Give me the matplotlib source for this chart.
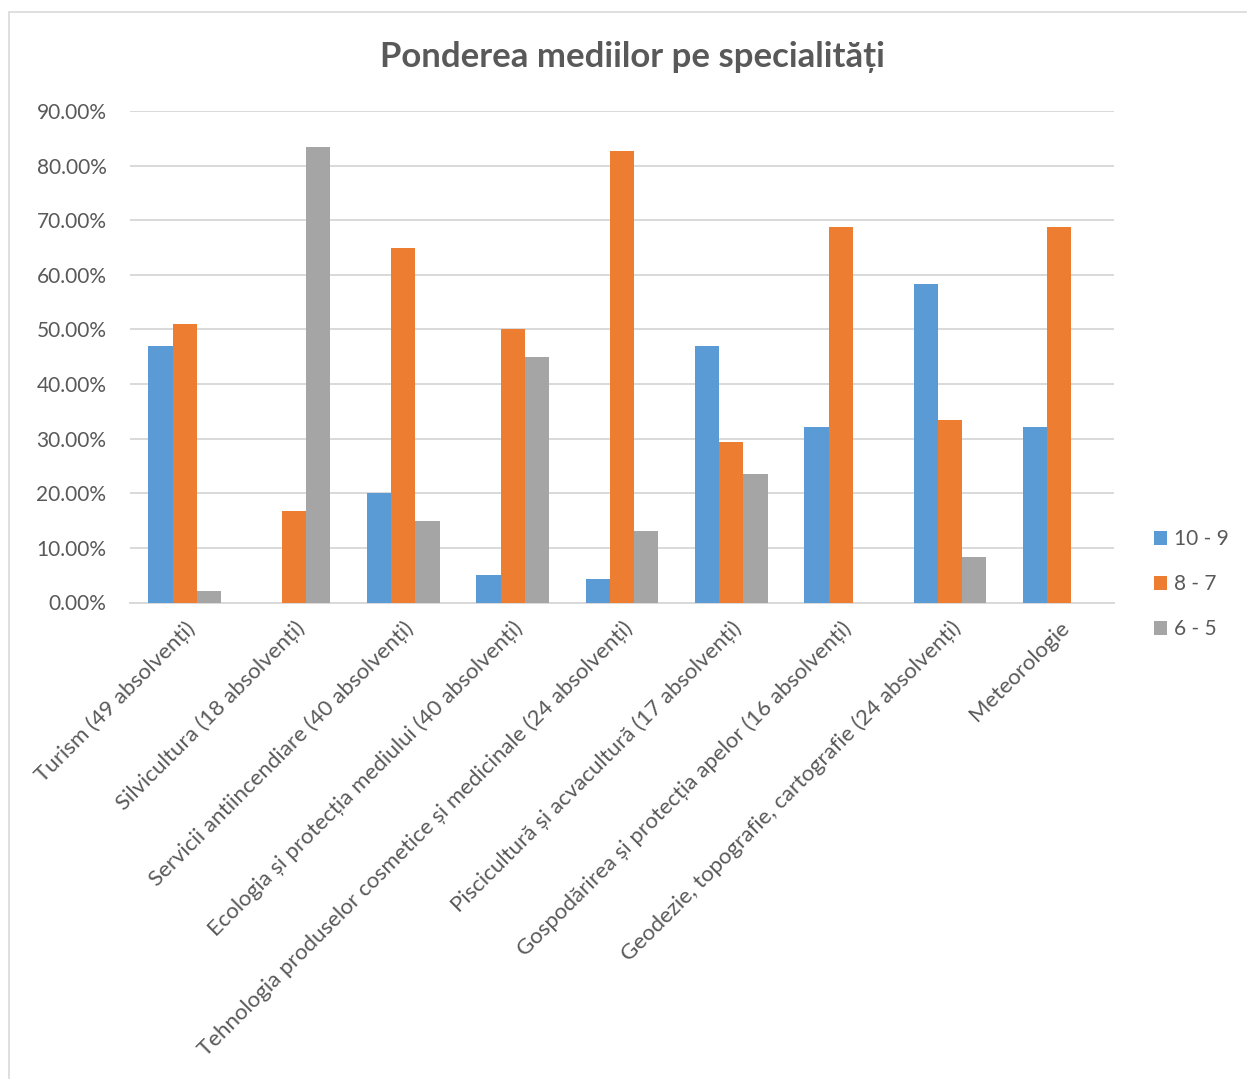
import numpy as np
import matplotlib.pyplot as plt
from matplotlib.patches import Rectangle

# Date (procente)
specialitati = [
    'Turism (49 absolvenți)',
    'Silvicultura (18 absolvenți)',
    'Servicii antiincendiare (40 absolvenți)',
    'Ecologia și protecția mediului (40 absolvenți)',
    'Tehnologia produselor cosmetice și medicinale (24 absolvenți)',
    'Piscicultură și acvacultură (17 absolvenți)',
    'Gospodărirea și protecția apelor (16 absolvenți)',
    'Geodezie, topografie, cartografie (24 absolvenți)',
    'Meteorologie',
]
medii_10_9 = [46.94, 0.0, 20.0, 5.0, 4.35, 47.06, 32.2, 58.33, 32.2]
medii_8_7 = [51.02, 16.67, 65.0, 50.0, 82.61, 29.41, 68.8, 33.33, 68.8]
medii_6_5 = [2.04, 83.33, 15.0, 45.0, 13.04, 23.53, 0.0, 8.33, 0.0]
serii = ['10 - 9', '8 - 7', '6 - 5']
culori = ['#5B9BD5', '#ED7D31', '#A5A5A5']

plt.rcParams['font.family'] = ['Lato', 'DejaVu Sans']
gri_text = '#595959'

W, H = 1247, 1079
fig = plt.figure(figsize=(W / 100, H / 100), dpi=100)
ax = fig.add_axes([130 / W, 1 - 602.5 / H, 984 / W, (602.5 - 111) / H])

x = np.arange(len(specialitati))
w = 0.222
for i, (vals, nume, c) in enumerate(zip([medii_10_9, medii_8_7, medii_6_5], serii, culori)):
    ax.bar(x + (i - 1) * w, vals, w, color=c, label=nume, zorder=3)

ax.set_xlim(-0.5, len(specialitati) - 0.5)
ax.set_ylim(0, 90)
ax.set_yticks(np.arange(0, 91, 10))
ax.set_yticklabels([f'{v:.2f}%' for v in np.arange(0, 91, 10)])
ax.grid(axis='y', color='#D9D9D9', linewidth=1.4, zorder=0)
for s in ['top', 'right', 'left']:
    ax.spines[s].set_visible(False)
ax.spines['bottom'].set_color('#D9D9D9')
ax.spines['bottom'].set_linewidth(1.4)
ax.tick_params(axis='both', length=0, labelcolor=gri_text)
ax.tick_params(axis='y', labelsize=15, pad=17)

ax.set_xticks(x)
ax.set_xticklabels(specialitati, rotation=45, ha='right', rotation_mode='anchor')
ax.tick_params(axis='x', labelsize=16, pad=11)

fig.text(632 / W, 1 - 57 / H, 'Ponderea mediilor pe specialități', ha='center', va='center',
         fontsize=25, fontweight='bold', color=gri_text)

ax.legend(loc='center left', bbox_to_anchor=(1005 / 984, 0.037), frameon=False,
          fontsize=15, labelcolor=gri_text, handlelength=0.65, handleheight=0.65,
          handletextpad=0.3, labelspacing=1.2)

# chenarul graficului
fig.patches.append(Rectangle((9 / W, -0.1), 1.2, 1 - 12 / H + 0.1, transform=fig.transFigure,
                             fill=False, edgecolor='#D9D9D9', linewidth=1.2))

fig.savefig('out.png', dpi=100)
